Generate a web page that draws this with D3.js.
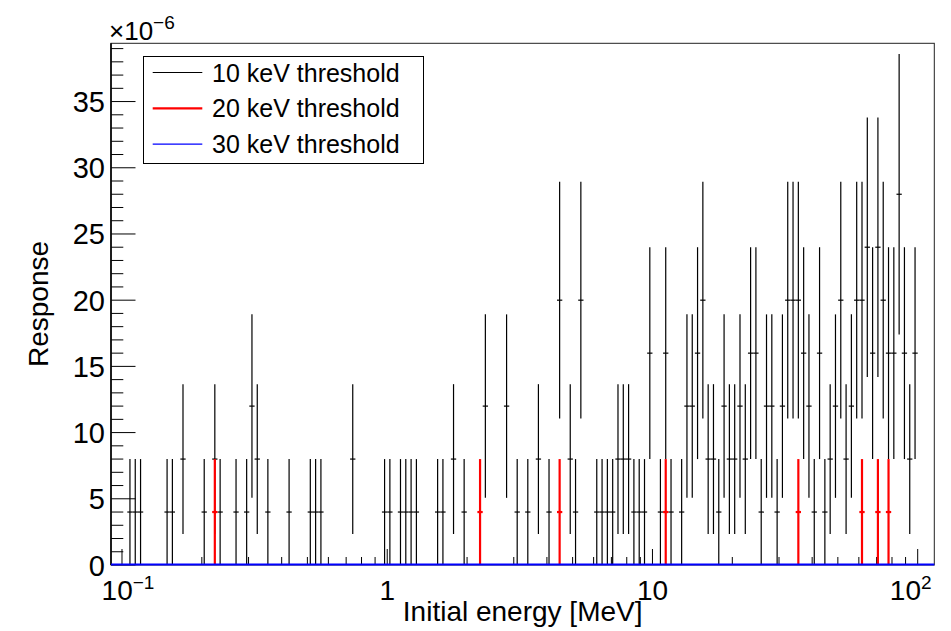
<!DOCTYPE html>
<html lang="en">
<head>
<meta charset="utf-8">
<title>Response vs initial energy</title>
<script src="https://d3js.org/d3.v7.min.js"></script>
<style>
  body { margin: 0; background: #fff; }
  text { font-family: "Liberation Sans", Arial, sans-serif; fill: #000; }
</style>
</head>
<body>
<svg width="951" height="631"></svg>
<script>
// histogram binning (log bins, 50 per decade)
const nBins = 150, eLow = 0.1, eHigh = 100;

// 10 keV threshold: filled bins and their response (x 1e-6)
const blackBins = [1,2,3,8,9,11,15,17,18,21,23,24,25,27,31,35,36,37,43,49,50,52,53,54,55,59,60,62,64,68,
  72,74,76,78,80,82,84,85,86,89,90,91,92,93,94,95,96,97,98,99,101,102,103,105,106,107,108,109,110,111,
  112,113,114,115,116,117,118,119,120,121,122,123,124,125,126,127,128,129,130,131,132,133,134,135,136,
  137,138,139,140,141,142,143,144,145,146,147,148,149];
const blackResp = [4,4,4,4,4,8,4,8,4,4,4,12,8,4,4,4,4,4,8,4,4,4,4,4,4,4,4,8,4,12,
  12,4,4,8,4,20,8,4,20,4,4,4,4,8,8,8,4,4,4,16,4,16,4,4,12,12,16,20,8,8,
  4,12,8,8,12,8,16,16,4,12,12,4,12,20,20,20,16,12,4,16,4,8,12,20,8,
  12,20,20,24,16,24,20,16,16,28,16,8,16];

// 20 keV threshold
const redBins = [17,67,82,102,127,139,142,144];
const redResp = [4,4,4,4,4,4,4,4];

// 30 keV threshold: empty everywhere
const blueResp = 0;

const weight = 4; // response of one entry (x 1e-6)
const legendLabels = ["10 keV threshold", "20 keV threshold", "30 keV threshold"];
const seriesColors = ["#000000", "#ff0000", "#0000ff"];
const xTickValues = [0.1, 1, 10, 100];
const xTickLabels = [["10", "\u22121"], ["1", ""], ["10", ""], ["10", "2"]];
const yTickValues = [0, 5, 10, 15, 20, 25, 30, 35];

const svg = d3.select("svg");
const fLeft = 111, fRight = 934.3, fTop = 43.3, fBottom = 565;

const x = d3.scaleLog().domain([0.0909, 115.5]).range([fLeft, fRight]);
const y = d3.scaleLinear().domain([0, 39.4]).range([fBottom, fTop]);

const binLow = k => eLow * Math.pow(eHigh / eLow, k / nBins);
const binHigh = k => eLow * Math.pow(eHigh / eLow, (k + 1) / nBins);
const binMid = k => Math.sqrt(binLow(k) * binHigh(k));

function toPoints(bins, resp) {
  return bins.map((b, i) => {
    const n = resp[i] / weight;
    return { bin: b, v: resp[i], err: Math.sqrt(n) * weight };
  });
}

// y axis ticks (inward)
const yMinor = d3.range(0, 40, 1);
svg.append("g").selectAll("line").data(yMinor).join("line")
  .attr("x1", fLeft).attr("x2", d => fLeft + (d % 5 === 0 ? 24.5 : 12.3))
  .attr("y1", d => y(d)).attr("y2", d => y(d))
  .attr("stroke", "#000").attr("stroke-width", 1);

svg.append("g").selectAll("text").data(yTickValues).join("text")
  .attr("x", 105).attr("y", d => y(d) + 10.5)
  .attr("text-anchor", "end").attr("font-size", 29)
  .text(d => d);

// x axis ticks (log, upward)
const xTicks = [];
[0.1, 1, 10].forEach(dec => { for (let m = 1; m < 10; m++) xTicks.push({ v: dec * m, major: m === 1 }); });
xTicks.push({ v: 100, major: true });
svg.append("g").selectAll("line").data(xTicks).join("line")
  .attr("x1", d => x(d.v)).attr("x2", d => x(d.v))
  .attr("y1", fBottom).attr("y2", d => fBottom - (d.major ? 16 : 8))
  .attr("stroke", "#000").attr("stroke-width", 1);

const xl = svg.append("g").selectAll("text").data(xTickValues).join("text")
  .attr("x", (d, i) => i === 0 ? x(d) + 6 : x(d) - (xTickLabels[i][1] ? 7 : 0))
  .attr("y", 600).attr("text-anchor", "middle").attr("font-size", 28);
xl.append("tspan").text((d, i) => xTickLabels[i][0]);
xl.append("tspan").attr("dy", -11).attr("font-size", 19).text((d, i) => xTickLabels[i][1]);

// 10 keV series
const black = toPoints(blackBins, blackResp);
const gb = svg.append("g").attr("stroke", seriesColors[0]).attr("stroke-width", 1.2);
gb.selectAll("line.v").data(black).join("line").attr("class", "v")
  .attr("x1", d => x(binMid(d.bin))).attr("x2", d => x(binMid(d.bin)))
  .attr("y1", d => y(d.v - d.err)).attr("y2", d => y(d.v + d.err));
gb.selectAll("line.h").data(black).join("line").attr("class", "h")
  .attr("x1", d => x(binLow(d.bin))).attr("x2", d => x(binHigh(d.bin)))
  .attr("y1", d => y(d.v)).attr("y2", d => y(d.v));

// 20 keV series
const red = toPoints(redBins, redResp);
const gr = svg.append("g").attr("stroke", seriesColors[1]).attr("stroke-width", 2.2);
gr.selectAll("line.v").data(red).join("line").attr("class", "v")
  .attr("x1", d => x(binMid(d.bin))).attr("x2", d => x(binMid(d.bin)))
  .attr("y1", d => y(d.v - d.err)).attr("y2", d => y(d.v + d.err));
gr.selectAll("line.h").data(red).join("line").attr("class", "h")
  .attr("x1", d => x(binLow(d.bin))).attr("x2", d => x(binHigh(d.bin)))
  .attr("y1", d => y(d.v)).attr("y2", d => y(d.v));

// frame
svg.append("rect").attr("x", fLeft).attr("y", fTop)
  .attr("width", fRight - fLeft).attr("height", fBottom - fTop)
  .attr("fill", "none").attr("stroke", "#222").attr("stroke-width", 1);
svg.append("line").attr("x1", fLeft).attr("x2", fLeft).attr("y1", fTop).attr("y2", fBottom)
  .attr("stroke", "#000").attr("stroke-width", 1.6);

// 30 keV series (zero everywhere)
svg.append("line")
  .attr("x1", x.range()[0]).attr("x2", x.range()[1])
  .attr("y1", y(blueResp) - 0.5).attr("y2", y(blueResp) - 0.5)
  .attr("stroke", seriesColors[2]).attr("stroke-width", 2);

// exponent
const ex = svg.append("text").attr("x", 109).attr("y", 40).attr("font-size", 26);
ex.append("tspan").text("\u00d710");
ex.append("tspan").attr("dy", -11).attr("font-size", 19).text("\u22126");

// axis titles
svg.append("text").attr("transform", "translate(48,304) rotate(-90)")
  .attr("text-anchor", "middle").attr("font-size", 28).text("Response");
svg.append("text").attr("x", (fLeft + fRight) / 2).attr("y", 621)
  .attr("text-anchor", "middle").attr("font-size", 28).text("Initial energy [MeV]");

// legend
const lg = svg.append("g");
lg.append("rect").attr("x", 143.5).attr("y", 56.5).attr("width", 280).attr("height", 107)
  .attr("fill", "#fff").attr("stroke", "#000").attr("stroke-width", 1);
const rows = lg.selectAll("g").data(legendLabels).join("g")
  .attr("transform", (d, i) => `translate(0,${72.5 + i * 35.8})`);
rows.append("line").attr("x1", 152.7).attr("x2", 202.3).attr("y1", 0).attr("y2", 0)
  .attr("stroke", (d, i) => seriesColors[i]).attr("stroke-width", (d, i) => i === 1 ? 2.2 : 1.2);
rows.append("text").attr("x", 212).attr("y", 9).attr("font-size", 25).text(d => d);
</script>
</body>
</html>
